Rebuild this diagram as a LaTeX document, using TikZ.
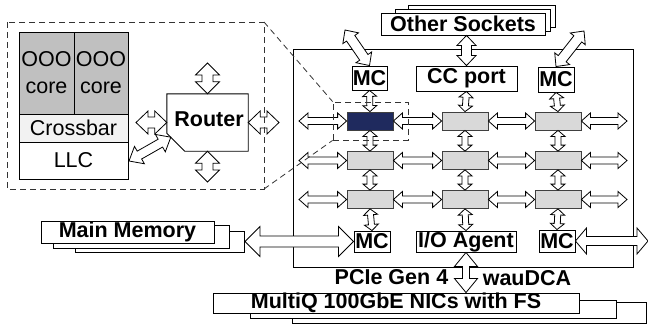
\documentclass[tikz,border=0pt]{standalone}
\usepackage{fontspec}
\setmainfont{Liberation Sans}
\usetikzlibrary{calc}
\definecolor{coregray}{HTML}{C0C0C0}
\definecolor{tilegray}{HTML}{D9D9D9}
\definecolor{xbargray}{HTML}{F2F2F2}
\definecolor{navytile}{HTML}{1F2A5E}
\newcommand\harrow[5]{%
  \path (#1) coordinate (ha-a) (#2) coordinate (ha-b);
  \path ($(ha-a)!#5!(ha-b)$) coordinate (ha-1) ($(ha-b)!#5!(ha-a)$) coordinate (ha-2);
  \draw[harrowsty] (ha-a) -- ($(ha-1)!#4!90:(ha-b)$) -- ($(ha-1)!#3!90:(ha-b)$)
    -- ($(ha-2)!#3!-90:(ha-a)$) -- ($(ha-2)!#4!-90:(ha-a)$) -- (ha-b)
    -- ($(ha-2)!#4!90:(ha-a)$) -- ($(ha-2)!#3!90:(ha-a)$)
    -- ($(ha-1)!#3!-90:(ha-b)$) -- ($(ha-1)!#4!-90:(ha-b)$) -- cycle;
}
\begin{document}
\begin{tikzpicture}[x=1pt,y=-1pt,
  harrowsty/.style={draw=black, fill=white, line width=0.8pt, line join=miter},
  bfont/.style={font=\bfseries\fontsize{21.5}{24}\selectfont},
  rfont/.style={font=\fontsize{21.5}{27}\selectfont},
  box/.style={draw, line width=0.9pt, fill=white, inner sep=0pt, bfont},
  tile/.style={draw=black!75, fill=tilegray, minimum width=46pt, minimum height=18pt, inner sep=0pt, line width=0.8pt},
  inbox/.style={draw, line width=0.9pt, inner sep=0pt, rfont, align=center},
  zoomline/.style={dashed, dash pattern=on 6pt off 4pt, line width=0.8pt, black!80}]
\fill[white] (0,0) rectangle (648,324);
\useasboundingbox (0,0) rectangle (648,324);

% ---------- inset (core tile detail) ----------
\node[inbox, fill=coregray, minimum width=55pt, minimum height=82pt] (core1) at (46.5,73) {OOO\\core};
\node[inbox, fill=coregray, minimum width=54pt, minimum height=82pt] (core2) at (101,73) {OOO\\core};
\node[inbox, fill=xbargray, minimum width=109pt, minimum height=28pt] (xbar) at (73.5,128) {Crossbar};
\node[inbox, fill=white, minimum width=109pt, minimum height=37pt] (llc) at (73.5,160.5) {LLC};

\node[minimum width=81pt, minimum height=57pt, inner sep=0pt] (router) at (207.5,122.5) {};
\draw[line width=0.9pt, fill=white] (router.north west) -- (router.north east) -- (router.south east)
  -- ($(router.south west)+(18,0)$) -- ($(router.south west)+(0,-18)$) -- cycle;
\node[bfont, inner sep=0pt] (routertxt) at (209,119) {Router};

\coordinate (rtop) at (207.5,63);
\coordinate (rbot) at (207.5,182);
\coordinate (rleft) at (136,122.5);
\coordinate (rright) at (279,122.5);
\coordinate (rdiag) at ($(router.south west)+(4,-14)$);
\coordinate (llcend) at (129,161);
\harrow{rtop}{router.north}{5.5pt}{12pt}{12pt}
\harrow{router.south}{rbot}{5.5pt}{12pt}{12pt}
\harrow{rleft}{router.west}{5.5pt}{11.5pt}{12pt}
\harrow{router.east}{rright}{5.5pt}{11.5pt}{12pt}
\harrow{llcend}{rdiag}{4.5pt}{10pt}{12pt}

% ---------- external boxes ----------
\node[box, minimum width=147pt, minimum height=22pt] (os3) at (481.5,16) {};
\node[box, minimum width=155pt, minimum height=22pt] (os2) at (472.5,20) {};
\node[box, minimum width=164pt, minimum height=22pt] (os1) at (463,24) {Other Sockets};

\node[box, minimum width=169pt, minimum height=21pt] (mm3) at (159.5,241.5) {};
\node[box, minimum width=176pt, minimum height=23pt] (mm2) at (141,236.5) {};
\node[box, minimum width=173pt, minimum height=22pt] (mm1) at (127.5,232) {Main Memory};

\node[box, minimum width=354pt, minimum height=21pt] (nic3) at (469,312.5) {};
\node[box, minimum width=366pt, minimum height=18pt] (nic2) at (433,309) {};
\node[box, minimum width=366pt, minimum height=20pt] (nic1) at (396,303) {MultiQ 100GbE NICs with FS};

% ---------- socket ----------
\node[draw, line width=0.9pt, minimum width=340pt, minimum height=218pt, inner sep=0pt] (socket) at (463,158) {};

\node[box, minimum width=35pt, minimum height=24pt] (mcA) at (369.5,78) {MC};
\node[box, minimum width=101pt, minimum height=25pt] (cc) at (466.5,78.5) {CC port};
\node[box, minimum width=36pt, minimum height=25pt] (mcB) at (556,79.5) {MC};
\node[box, minimum width=36pt, minimum height=21pt] (mcC) at (372,241.5) {MC};
\node[box, minimum width=100pt, minimum height=21pt] (io) at (466,241.5) {I/O Agent};
\node[box, minimum width=36pt, minimum height=22pt] (mcD) at (557,241) {MC};

\node[tile, fill=navytile] (t11) at (370,121) {};
\node[tile] (t12) at (465,121) {};
\node[tile] (t13) at (558,121) {};
\node[tile] (t21) at (370,160.5) {};
\node[tile] (t22) at (465,160.5) {};
\node[tile] (t23) at (558,160.5) {};
\node[tile] (t31) at (370,199.5) {};
\node[tile] (t32) at (465,199.5) {};
\node[tile] (t33) at (558,199.5) {};

% row arrows
\foreach \r/\y in {1/121,2/160.5,3/199.5}{
  \coordinate (rl\r) at (299,\y);
  \coordinate (rr\r) at (627,\y);
  \harrow{rl\r}{t\r1.west}{3.5pt}{8pt}{9pt}
  \harrow{t\r1.east}{t\r2.west}{3.5pt}{8pt}{9pt}
  \harrow{t\r2.east}{t\r3.west}{3.5pt}{8pt}{9pt}
  \harrow{t\r3.east}{rr\r}{3.5pt}{8pt}{9pt}
}
% column arrows
\harrow{mcA.south}{t11.north}{3pt}{7pt}{6pt}
\harrow{cc.south}{t12.north}{3pt}{7pt}{6pt}
\harrow{mcB.south}{t13.north}{3pt}{7pt}{6pt}
\foreach \c in {1,2,3}{
  \harrow{t1\c.south}{t2\c.north}{3pt}{7pt}{6pt}
  \harrow{t2\c.south}{t3\c.north}{3pt}{7pt}{6pt}
}
\harrow{t31.south}{mcC.north}{3pt}{7pt}{6pt}
\harrow{t32.south}{io.north}{3pt}{7pt}{6pt}
\harrow{t33.south}{mcD.north}{3pt}{7pt}{6pt}

% external arrows
\coordinate (osl) at (345,30);
\coordinate (osr) at (584,31);
\harrow{osl}{mcA.north}{5pt}{9.5pt}{10pt}
\harrow{osr}{mcB.north}{5pt}{9.5pt}{10pt}
\harrow{cc.north |- os1.south}{cc.north}{5pt}{9.5pt}{10pt}
\coordinate (mmend) at (245,241.5);
\harrow{mmend}{mcC.west}{5.5pt}{15pt}{15pt}
\coordinate (rightend) at (648,241);
\harrow{mcD.east}{rightend}{4.5pt}{13pt}{11pt}
\harrow{io.south}{io.south |- nic1.north}{3.5pt}{11.5pt}{14pt}

\node[bfont, inner sep=0pt] (pcie) at (391.5,277) {PCIe Gen 4};
\node[bfont, inner sep=0pt] (dca) at (527,278) {wauDCA};

% ---------- zoom indication ----------
\draw[zoomline] (7,22) rectangle (264,189);
\node[draw=black!80, dashed, dash pattern=on 6pt off 4pt, line width=0.8pt, minimum width=75pt, minimum height=38pt, inner sep=0pt] (zoombox) at (370.5,121) {};
\draw[zoomline] (264,22) -- (zoombox.north west);
\draw[zoomline] (264,189) -- (zoombox.south west);
\end{tikzpicture}
\end{document}
